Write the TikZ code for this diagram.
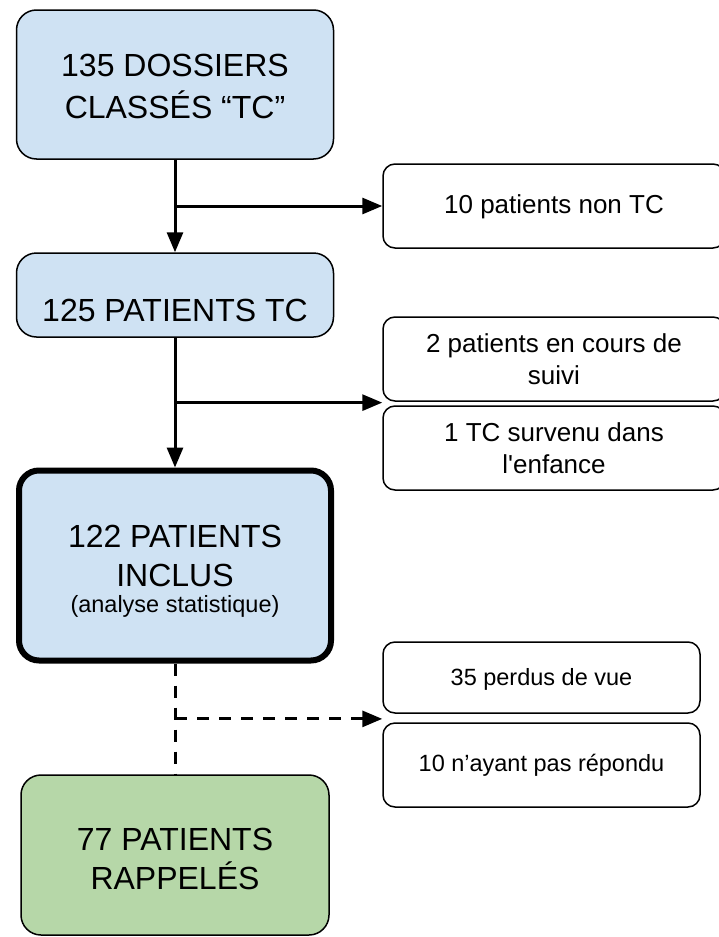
\documentclass[tikz,border=0pt]{standalone}
\usepackage{fontspec}
\setmainfont{Liberation Sans}
\usetikzlibrary{arrows.meta,calc}
\definecolor{boxblue}{HTML}{CFE2F3}
\definecolor{boxgreen}{HTML}{B6D7A8}

\begin{document}
\begin{tikzpicture}[x=1pt,y=-1pt,
    bigbox/.style={draw,line width=1.5pt,rounded corners=20pt,fill=boxblue,
      align=center,minimum width=317pt,font=\fontsize{32}{39}\selectfont},
    sidebox/.style={draw,line width=1.5pt,rounded corners=12pt,fill=white,
      align=center,minimum width=342pt,minimum height=84pt,
      font=\fontsize{26}{31.5}\selectfont},
    link/.style={line width=3pt,-{Triangle[length=20pt,width=16pt]}},
    dashlink/.style={line width=3pt,dash pattern=on 12pt off 10pt}]
      \useasboundingbox (0,0) rectangle (719,937);
      %this draws the main column
      \node [bigbox,minimum height=149pt,font=\fontsize{32}{42}\selectfont] (dossiers) at (175,84.5)
        {\rule{0pt}{27pt}135 DOSSIERS\\CLASSÉS “TC”};
      \node [bigbox,minimum height=84pt,text height=52pt,text depth=0pt] (tc) at (175,295) {125 PATIENTS TC};
      \node [bigbox,line width=6pt,minimum width=312pt,minimum height=190pt] (inclus) at (175,565.5)
        {\rule{0pt}{33pt}122 PATIENTS\\INCLUS\\[-13pt]{\fontsize{23.5}{28}\selectfont (analyse statistique)}};
      \node [bigbox,fill=boxgreen,minimum width=308pt,minimum height=160pt] (rappeles) at (175,855)
        {\rule{0pt}{31pt}77 PATIENTS\\RAPPELÉS};
      %this draws the side boxes
      \node [sidebox,text height=21pt] (nontc) at (554,206) {10 patients non TC};
      \node [sidebox] (suivi) at (554,359) {2 patients en cours de\\suivi};
      \node [sidebox] (enfance) at (554,448) {1 TC survenu dans\\l\textquotesingle enfance};
      \node [sidebox,minimum width=317pt,minimum height=71pt,text height=20pt,font=\fontsize{23.5}{28}\selectfont] (perdus) at (541.5,677.5) {35 perdus de vue};
      \node [sidebox,minimum width=317pt,font=\fontsize{23.5}{28}\selectfont] (repondu) at (541.5,765) {10 n’ayant pas répondu};
      %this draws the lines
      \coordinate (fork1) at ($(dossiers.south)!0.5!(tc.north)$);
      \coordinate (fork2) at ($(tc.south)!0.5!(inclus.north)$);
      \coordinate (fork3) at ($(inclus.south)!0.5!(rappeles.north)$);
      \draw[link] (dossiers) -- (tc);
      \draw[link] (fork1) -- (fork1 -| nontc.west);
      \draw[link] (tc) -- (inclus);
      \draw[link] (fork2) -- (fork2 -| suivi.west);
      \draw[dashlink] (inclus) -- (rappeles);
      \draw[dashlink,-{Triangle[length=20pt,width=16pt]}] (fork3) -- (fork3 -| perdus.west);
    \end{tikzpicture}
\end{document}
